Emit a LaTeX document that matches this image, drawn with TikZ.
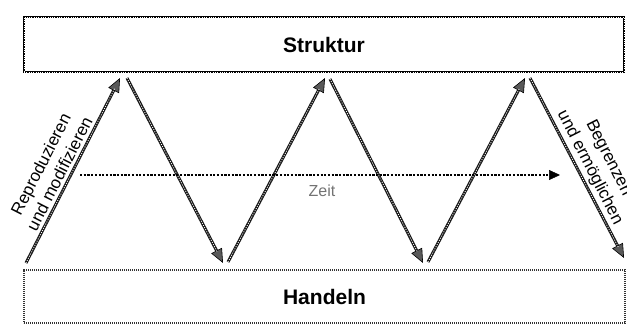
\documentclass[tikz,border=0pt]{standalone}
\usepackage{fontspec}
\setmainfont{Liberation Sans}
\usetikzlibrary{arrows.meta}
\tikzset{
  boxA/.style={draw=black, line width=2.6pt, minimum width=600pt, minimum height=55pt, inner sep=0pt, font=\fontsize{21}{24}\selectfont\bfseries,
    postaction={draw=white, line width=0.7pt, dash pattern=on 1pt off 1.3pt}},
  boxB/.style={draw=black!80, line width=1.5pt, dash pattern=on 1.1pt off 0.9pt, minimum width=601pt, minimum height=53pt, inner sep=0pt, font=\fontsize{21}{24}\selectfont\bfseries},
  zig/.style={draw=black!90, line width=3pt,
    -{Triangle[length=14pt,width=12pt,line width=0.6pt,fill=black!65,color=black]},
    postaction={draw=white, line width=0.8pt, dash pattern=on 1pt off 1.4pt, shorten >=12pt, -}},
  timeline/.style={draw=black, line width=2.4pt, dash pattern=on 2.2pt off 1.5pt,
    -{Triangle[length=11pt,width=10pt,line width=0.5pt]}},
  lab/.style={font=\fontsize{17}{21}\selectfont, align=center, inner sep=0pt},
}
\begin{document}
\begin{tikzpicture}[x=1pt,y=1pt]
\useasboundingbox (0,0) rectangle (627,325);
\node[boxA] (struktur) at (324,280.5) {Struktur};
\node[boxB] (handeln) at (324.5,28.5) {Handeln};
\coordinate (s0) at (26,62);
\coordinate (p1t) at (120,247);
\coordinate (p1s) at (127,247);
\coordinate (v1t) at (223,62);
\coordinate (v1s) at (228,63);
\coordinate (p2t) at (325,247);
\coordinate (p2s) at (330,246);
\coordinate (v2t) at (423,62);
\coordinate (v2s) at (428,63);
\coordinate (p3t) at (525,247);
\coordinate (p3s) at (530,247);
\coordinate (e1) at (624,67);
\draw[zig] (s0) -- (p1t);
\draw[zig] (p1s) -- (v1t);
\draw[zig] (v1s) -- (p2t);
\draw[zig] (p2s) -- (v2t);
\draw[zig] (v2s) -- (p3t);
\draw[zig] (p3s) -- (e1);
\coordinate (t0) at (80,150);
\coordinate (t1) at (560,150);
\draw[timeline] (t0) -- (t1);
\node[font=\fontsize{16}{18}\selectfont, text=black!55, inner sep=0pt] (zeit) at (322,134) {Zeit};
\node[lab, rotate=63] (repro) at (50,156) {Reproduzieren\\und modifizieren};
\node[lab, rotate=-63] (begr) at (599,162) {Begrenzen\\und ermöglichen};
\end{tikzpicture}
\end{document}
